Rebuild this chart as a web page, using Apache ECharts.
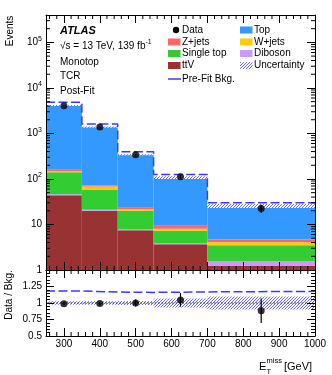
<!DOCTYPE html>
<html><head><meta charset="utf-8">
<script src="https://cdn.jsdelivr.net/npm/echarts@6/dist/echarts.min.js"></script>
<style>html,body{margin:0;padding:0;background:#fff}#c{width:332px;height:375px}</style>
</head><body><div id="c"></div>
<script>
// ---------------- data ----------------
const binEdges   = [250, 350, 450, 550, 700, 1000];
const binCenters = [300, 400, 500, 625, 850];
const ttV        = [43.8, 20.1, 7.45, 3.67, 1.22];
const diboson    = [2.2, 1.1, 0.5, 0.13, 0.36];
const singleTop  = [94, 37.8, 12.15, 3.5, 1.92];
const wJets      = [10, 9, 1.4, 0.8, 0.56];
const zJets      = [10, 5, 1.9, 1.3, 0.64];
const topBkg     = [3940, 1317, 317, 97.6, 20.8];
const dataVals   = [4050, 1380, 340, 112, 22.5];
const dataErr    = [64, 37, 18, 11, 4.7];
const preFit     = [4850, 1620, 395, 125, 30];
const bkgUnc     = [0.025, 0.025, 0.03, 0.07, 0.1];
const xTickLabels = [300, 400, 500, 600, 700, 800, 900, 1000];
const yTickValues = [1, 10, 100, 1000, 10000, 100000];

const FONT = 'Liberation Sans';
const Y_MIN = 1, Y_MAX = 4e5;

const layers = [
  {name: 'ttV', vals: ttV, color: '#993333'},
  {name: 'Diboson', vals: diboson, color: '#cc99ff'},
  {name: 'Single top', vals: singleTop, color: '#33cc33'},
  {name: 'W+jets', vals: wJets, color: '#ffcc00'},
  {name: 'Z+jets', vals: zJets, color: '#ff6666'},
  {name: 'Top', vals: topBkg, color: '#3399ff'}
];

const total = binCenters.map((_, i) => layers.reduce((s, l) => s + l.vals[i], 0));

// hatch pattern (crisp pixel diagonals, "////")
const pc = document.createElement('canvas'); pc.width = 3; pc.height = 3;
const g = pc.getContext('2d');
g.fillStyle = '#ffffff'; g.fillRect(0, 0, 3, 3);
g.fillStyle = '#6b6bff';
for (let i = 0; i < 3; i++) g.fillRect(i, 2 - i, 1, 1);
const hatch = {image: pc, repeat: 'repeat'};

function rectItem(fill) {
  return function (params, api) {
    const p0 = api.coord([api.value(0), api.value(3)]);
    const p1 = api.coord([api.value(1), api.value(2)]);
    return {type: 'rect', shape: {x: p0[0], y: p0[1], width: p1[0] - p0[0], height: p1[1] - p0[1]},
            style: {fill: fill || api.visual('color')}};
  };
}

const series = [];
const cum = binCenters.map(() => 0);
layers.forEach(l => {
  const d = binCenters.map((_, i) => {
    const low = cum[i]; cum[i] += l.vals[i];
    return [binEdges[i], binEdges[i + 1], Math.max(low, Y_MIN), cum[i]];
  });
  series.push({type: 'custom', name: l.name, xAxisIndex: 0, yAxisIndex: 0, itemStyle: {color: l.color},
    renderItem: rectItem(null), data: d, z: 1, silent: true});
});
series.push({type: 'custom', xAxisIndex: 0, yAxisIndex: 0, z: 2, silent: true,
  renderItem: rectItem(hatch),
  data: binCenters.map((_, i) => [binEdges[i], binEdges[i + 1], total[i] * (1 - bkgUnc[i]), total[i] * (1 + bkgUnc[i])])});
const stepData = (vals) => binEdges.map((e, i) => [e, vals[Math.min(i, vals.length - 1)]]);
series.push({type: 'line', xAxisIndex: 0, yAxisIndex: 0, step: 'end', showSymbol: false, z: 3, silent: true,
  lineStyle: {color: '#3b3bff', width: 1.5, type: [9, 3.5]}, data: stepData(preFit)});
function errItem(params, api) {
  const a = api.coord([api.value(0), api.value(1) - api.value(2)]);
  const b = api.coord([api.value(0), api.value(1) + api.value(2)]);
  return {type: 'line', shape: {x1: a[0], y1: a[1], x2: b[0], y2: b[1]}, style: {stroke: '#000', lineWidth: 1.2}};
}
series.push({type: 'custom', xAxisIndex: 0, yAxisIndex: 0, z: 4, silent: true, renderItem: errItem,
  data: binCenters.map((c, i) => [c, dataVals[i], dataErr[i]])});
series.push({type: 'scatter', xAxisIndex: 0, yAxisIndex: 0, z: 5, silent: true, symbolSize: 7,
  itemStyle: {color: '#000'}, data: binCenters.map((c, i) => [c, dataVals[i]])});

// ratio panel
const ratioPre = preFit.map((p, i) => p / total[i]);
const ratioData = dataVals.map((d, i) => d / total[i]);
const ratioErr = dataErr.map((e, i) => e / total[i]);
series.push({type: 'custom', xAxisIndex: 2, yAxisIndex: 2, z: 2, silent: true, renderItem: rectItem(hatch),
  data: binCenters.map((_, i) => [binEdges[i], binEdges[i + 1], 1 - bkgUnc[i], 1 + bkgUnc[i]])});
series.push({type: 'line', xAxisIndex: 2, yAxisIndex: 2, showSymbol: false, z: 3, silent: true,
  lineStyle: {color: '#333', width: 1, type: [1.5, 2]}, data: [[binEdges[0], 1], [binEdges[binEdges.length - 1], 1]]});
series.push({type: 'line', xAxisIndex: 2, yAxisIndex: 2, step: 'end', showSymbol: false, z: 3, silent: true,
  lineStyle: {color: '#3b3bff', width: 1.5, type: [9, 3.5]}, data: stepData(ratioPre)});
series.push({type: 'custom', xAxisIndex: 2, yAxisIndex: 2, z: 4, silent: true, renderItem: errItem,
  data: binCenters.map((c, i) => [c, ratioData[i], ratioErr[i]])});
series.push({type: 'scatter', xAxisIndex: 2, yAxisIndex: 2, z: 5, silent: true, symbolSize: 7,
  itemStyle: {color: '#000'}, data: binCenters.map((c, i) => [c, ratioData[i]])});

// minor ticks (decoration) placed through the axes
function tickSeries(xi, yi, xs, ys, refX, refY) {
  const d = xs.map(v => [0, v]).concat(ys.map(v => [1, v]));
  series.push({type: 'custom', xAxisIndex: xi, yAxisIndex: yi, z: 20, silent: true, data: d,
    renderItem: function (params, api) {
      const cs = params.coordSys; const L = 4;
      const f = api.value(0), v = api.value(1);
      let s1, s2;
      if (f === 0) {
        const x = api.coord([v, refY])[0];
        s1 = {x1: x, y1: cs.y + cs.height, x2: x, y2: cs.y + cs.height - L};
        s2 = {x1: x, y1: cs.y, x2: x, y2: cs.y + L};
      } else {
        const y = api.coord([refX, v])[1];
        s1 = {x1: cs.x, y1: y, x2: cs.x + L, y2: y};
        s2 = {x1: cs.x + cs.width, y1: y, x2: cs.x + cs.width - L, y2: y};
      }
      return {type: 'group', children: [
        {type: 'line', shape: s1, style: {stroke: '#000', lineWidth: 1}},
        {type: 'line', shape: s2, style: {stroke: '#000', lineWidth: 1}}]};
    }});
}
const xMinor = [];
for (let v = 260; v < 1000; v += 20) if (v % 100 !== 0) xMinor.push(v);
const yMinor = [];
for (let k = 0; k <= 5; k++) for (let m = 2; m <= 9; m++) { const v = m * Math.pow(10, k); if (v < Y_MAX) yMinor.push(v); }
tickSeries(0, 0, xMinor, yMinor, 500, 10);
tickSeries(2, 2, xMinor, [], 500, 1);

const axLine = {show: true, lineStyle: {color: '#000', width: 1}};
function xAx(grid, pos, labels) {
  return {type: 'value', gridIndex: grid, position: pos, min: binEdges[0], max: binEdges[binEdges.length - 1], z: 10,
    axisLine: axLine, splitLine: {show: false},
    axisTick: {show: true, inside: true, length: 8, customValues: xTickLabels, lineStyle: {color: '#000'}},
    axisLabel: labels ? {show: true, customValues: xTickLabels, color: '#000', fontSize: 10, fontFamily: FONT, margin: 3,
                         formatter: v => String(v)}
                      : {show: false}};
}
function yLog(pos, labels) {
  return {type: 'log', logBase: 10, gridIndex: 0, position: pos, min: Y_MIN, max: Y_MAX, z: 10,
    axisLine: axLine, splitLine: {show: false}, minorTick: {show: false},
    axisTick: {show: true, inside: true, length: 8, customValues: yTickValues, lineStyle: {color: '#000'}},
    axisLabel: labels ? {show: true, customValues: yTickValues, margin: 4, color: '#000', fontFamily: FONT,
      formatter: function (v) {
        const e = Math.round(Math.log10(v));
        if (e === 0) return '{b|1}';
        if (e === 1) return '{b|10}';
        return '{b|10}{s|' + e + '}';
      },
      rich: {b: {fontSize: 10, fontFamily: FONT, color: '#000'},
             s: {fontSize: 7, fontFamily: FONT, color: '#000', padding: [0, 0, 7, 0]}}} : {show: false}};
}
function yRatio(pos, labels) {
  return {type: 'value', gridIndex: 1, position: pos, min: 0.5, max: 1.5, interval: 0.25, z: 10,
    axisLine: axLine, splitLine: {show: false},
    axisTick: {show: true, inside: true, length: 8, lineStyle: {color: '#000'}},
    minorTick: {show: true, splitNumber: 5, length: 4, lineStyle: {color: '#000'}},
    axisLabel: labels ? {show: true, margin: 4, color: '#000', fontSize: 10, fontFamily: FONT,
      formatter: v => (Math.abs(v - 1.5) < 1e-6 ? '' : String(v))} : {show: false}};
}

const T = (x, y, text, extra) => Object.assign({type: 'text', x: x, y: y,
  style: Object.assign({text: text, fill: '#000', font: '10px "' + FONT + '"', textVerticalAlign: 'middle'}, extra || {})});
const graphic = [
  T(60, 31, 'ATLAS', {font: 'italic bold 11px "' + FONT + '"'}),
  {type: 'text', x: 60, y: 46, style: {text: '{t|√s = 13 TeV, 139 fb}{s|-1}', textVerticalAlign: 'middle',
    rich: {t: {fontSize: 10, fontFamily: FONT, fill: '#000'}, s: {fontSize: 7, fontFamily: FONT, fill: '#000', padding: [0, 0, 7, 0]}}}},
  T(60, 62, 'Monotop'),
  T(60, 76.5, 'TCR'),
  T(60, 91, 'Post-Fit'),
  {type: 'circle', shape: {cx: 176, cy: 30, r: 3.2}, style: {fill: '#000'}},
  T(182, 30, 'Data'),
  {type: 'rect', shape: {x: 168, y: 38.5, width: 12.5, height: 7}, style: {fill: '#ff6666'}},
  T(182, 42, 'Z+jets'),
  {type: 'rect', shape: {x: 168, y: 50, width: 12.5, height: 7}, style: {fill: '#33cc33'}},
  T(182, 53.5, 'Single top'),
  {type: 'rect', shape: {x: 168, y: 62, width: 12.5, height: 7}, style: {fill: '#993333'}},
  T(182, 65.5, 'ttV'),
  {type: 'line', shape: {x1: 168, y1: 79, x2: 181, y2: 79}, style: {stroke: '#3b3bff', lineWidth: 1.5}},
  T(182, 79, 'Pre-Fit Bkg.'),
  {type: 'rect', shape: {x: 240, y: 26.5, width: 12.5, height: 7}, style: {fill: '#3399ff'}},
  T(254, 30, 'Top'),
  {type: 'rect', shape: {x: 240, y: 38.5, width: 12.5, height: 7}, style: {fill: '#ffcc00'}},
  T(254, 42, 'W+jets'),
  {type: 'rect', shape: {x: 240, y: 50, width: 12.5, height: 7}, style: {fill: '#cc99ff'}},
  T(254, 53.5, 'Diboson'),
  {type: 'rect', shape: {x: 240, y: 62, width: 12.5, height: 7}, style: {fill: hatch}},
  T(254, 65.5, 'Uncertainty'),
  Object.assign(T(10, 31, 'Events', {textAlign: 'center'}), {rotation: Math.PI / 2}),
  Object.assign(T(9, 295, 'Data / Bkg.', {textAlign: 'center'}), {rotation: Math.PI / 2}),
  T(259, 367, 'E', {font: '11px "' + FONT + '"'}),
  T(266.5, 361, 'miss', {font: '7.5px "' + FONT + '"'}),
  T(266.5, 371.5, 'T', {font: '7.5px "' + FONT + '"'}),
  T(284, 367, '[GeV]', {font: '11px "' + FONT + '"'})
];

const chart = echarts.init(document.getElementById('c'), null, {renderer: 'canvas'});
chart.setOption({
  animation: false,
  backgroundColor: '#fff',
  grid: [{left: 46, top: 15, width: 269, height: 255}, {left: 46, top: 270, width: 269, height: 66}],
  xAxis: [xAx(0, 'bottom', false), xAx(0, 'top', false), xAx(1, 'bottom', true), xAx(1, 'top', false)],
  yAxis: [yLog('left', true), yLog('right', false), yRatio('left', true), yRatio('right', false)],
  series: series,
  graphic: graphic
});
</script>
</body></html>
